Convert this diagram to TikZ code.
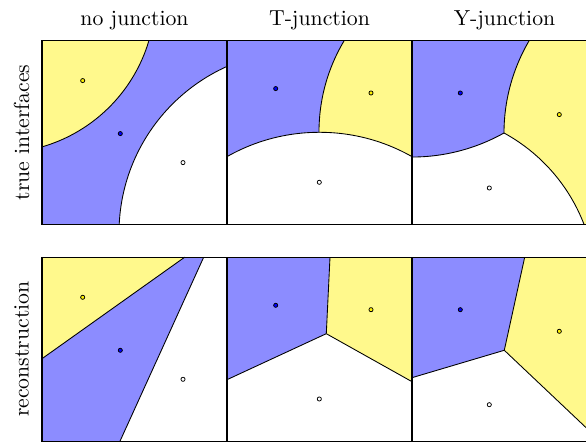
\documentclass[tikz,border=0pt]{standalone}
\usepackage{tikz}

\begin{document}
\begin{tikzpicture}[
    x=0.46pt, y=0.46pt,
    panel/.style={draw=black, line width=0.6pt},
    iface/.style={draw=black, line width=0.4pt},
    bluereg/.style={fill=blue!45},
    yellowreg/.style={fill=yellow!45},
    whitereg/.style={fill=white},
    seed/.style={circle, draw=black, line width=0.35pt, inner sep=0pt, minimum size=1.9pt},
    head/.style={anchor=base, font=\normalsize},
    side/.style={rotate=90, font=\normalsize}
  ]
    \useasboundingbox (0,0) rectangle (586,442);
    \clip (0,0) rectangle (586,442);

    \node[head] (hNone) at (134.5,416.5) {no junction};
    \node[head] (hT) at (319.5,416.5) {T-junction};
    \node[head] (hY) at (504.5,416.5) {Y-junction};
    \node[side] (vTrue) at (21.5,309.5) {true interfaces};
    \node[side] (vRec) at (21.5,92.8) {reconstruction};

    \begin{scope}
      \clip (42,217.5) rectangle (227,401.5);
      \fill[bluereg] (42,217.5) rectangle (227,401.5);
      \filldraw[yellowreg, iface] (-1.5,445.8) circle (156.8);
      \filldraw[whitereg, iface] (301.5,208.9) circle (182.5);
    \end{scope}

    \begin{scope}
      \clip (227,217.5) rectangle (412,401.5);
      \fill[bluereg] (227,217.5) rectangle (412,401.5);
      \filldraw[yellowreg, iface] (497,310) circle (178);
      \filldraw[whitereg, iface] (319.5,122.2) circle (187.5);
    \end{scope}

    \coordinate (jY) at (504,309);
    \begin{scope}
      \clip (412,217.5) rectangle (597,401.5);
      \fill[yellowreg] (686,309) circle (182);
      \fill[whitereg] (419.7,154.4) circle (176.1);
      \begin{scope}
        \clip (412,473) circle (188.04);
        \fill[bluereg, even odd rule] (412,217.5) rectangle (597,401.5) (686,309) circle (182);
      \end{scope}
      \draw[iface] (jY) arc[start angle=299.29, end angle=260, radius=188.04];
      \draw[iface] (jY) arc[start angle=180, end angle=130, radius=182];
      \draw[iface] (jY) arc[start angle=61.39, end angle=0, radius=176.1];
    \end{scope}

    \coordinate (rA) at (42,83.3);
    \coordinate (rB) at (184.7,184.8);
    \coordinate (rC) at (203.7,184.8);
    \coordinate (rD) at (120,0.8);
    \fill[yellowreg] (42,184.8) -- (rB) -- (rA) -- cycle;
    \fill[bluereg] (rB) -- (rC) -- (rD) -- (42,0.8) -- (rA) -- cycle;
    \draw[iface] (rA) -- (rB);
    \draw[iface] (rC) -- (rD);

    \coordinate (jT) at (326.3,108.3);
    \coordinate (tTop) at (330,184.8);
    \coordinate (tLeft) at (227,62.3);
    \coordinate (tRight) at (412,60.3);
    \fill[bluereg] (227,184.8) -- (tTop) -- (jT) -- (tLeft) -- cycle;
    \fill[yellowreg] (tTop) -- (412,184.8) -- (tRight) -- (jT) -- cycle;
    \draw[iface] (jT) -- (tTop);
    \draw[iface] (jT) -- (tLeft);
    \draw[iface] (jT) -- (tRight);

    \coordinate (jR) at (504.3,91.7);
    \coordinate (yTop) at (524.7,184.8);
    \coordinate (yLeft) at (412,64.3);
    \coordinate (yRight) at (597,4);
    \fill[bluereg] (412,184.8) -- (yTop) -- (jR) -- (yLeft) -- cycle;
    \fill[yellowreg] (yTop) -- (597,184.8) -- (yRight) -- (jR) -- cycle;
    \draw[iface] (jR) -- (yTop);
    \draw[iface] (jR) -- (yLeft);
    \draw[iface] (jR) -- (yRight);

    \foreach \r/\dy in {t/216.7, r/0} {
      \node[seed, fill=yellow] (sy1\r) at (82.7,144.7+\dy) {};
      \node[seed, fill=blue] (sb1\r) at (120.3,91.7+\dy) {};
      \node[seed, fill=white] (sw1\r) at (183,62.7+\dy) {};
      \node[seed, fill=blue] (sb2\r) at (275.7,136.7+\dy) {};
      \node[seed, fill=yellow] (sy2\r) at (371,132.3+\dy) {};
      \node[seed, fill=white] (sw2\r) at (319.3,43+\dy) {};
      \node[seed, fill=blue] (sb3\r) at (460.3,132.3+\dy) {};
      \node[seed, fill=yellow] (sy3\r) at (559.3,110.7+\dy) {};
      \node[seed, fill=white] (sw3\r) at (489.3,37.3+\dy) {};
    }

    \foreach \px in {42, 227, 412} {
      \draw[panel] (\px,217.5) rectangle ++(185,184);
      \draw[panel] (\px,0.8) rectangle ++(185,184);
    }
  \end{tikzpicture}
\end{document}
